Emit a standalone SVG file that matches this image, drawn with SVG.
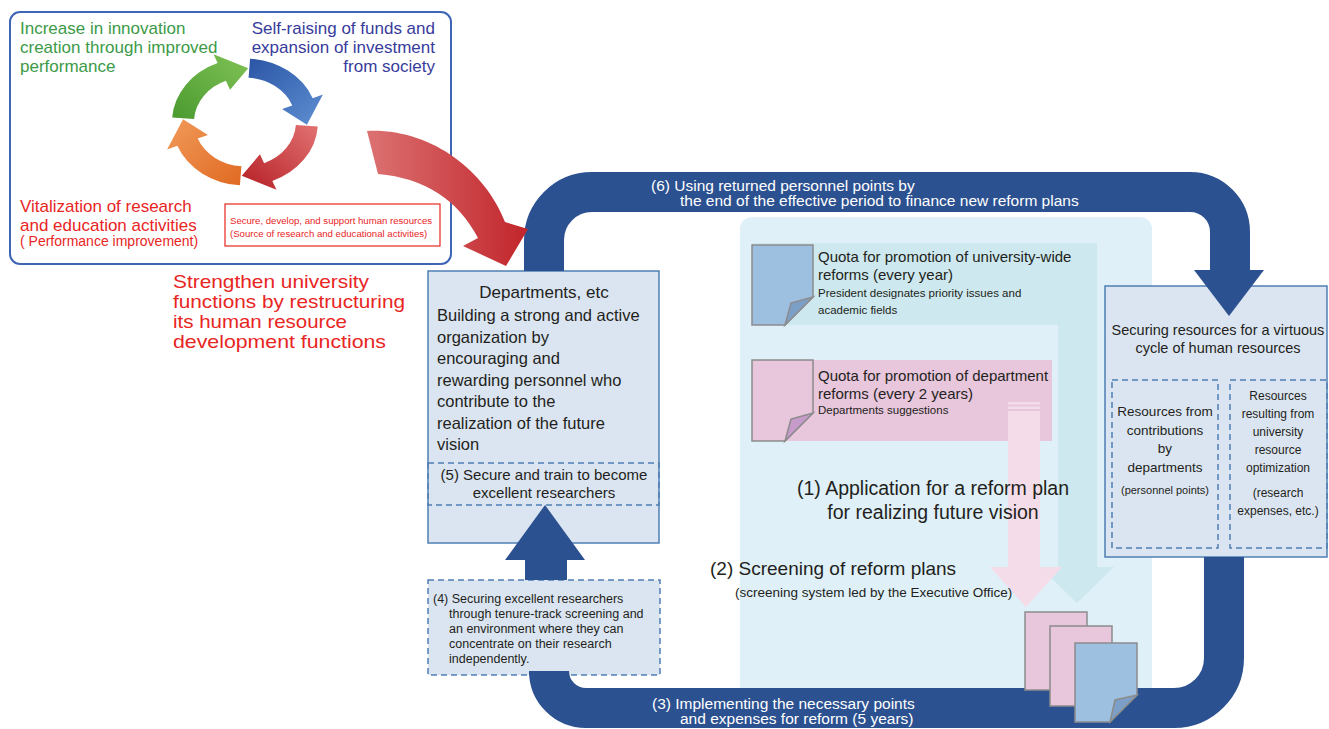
<svg xmlns="http://www.w3.org/2000/svg" width="1329" height="729" viewBox="0 0 1329 729">
<defs>
<style>
text{font-family:"Liberation Sans",Arial,sans-serif;}
.dk{fill:#231f20;}
.wh{fill:#ffffff;}
.rd{fill:#e8251f;}
.box{fill:#dbe5f1;stroke:#4f7fb2;stroke-width:1.5;}
.dash{fill:none;stroke:#4f7fb2;stroke-width:1.5;stroke-dasharray:6 4;}
.doc{stroke:#8c8c8c;stroke-width:1.5;}
.loop{fill:none;stroke:#2c5190;stroke-width:40;}
.mid{text-anchor:middle;}
</style>
<linearGradient id="gGreen" x1="0" y1="1" x2="1" y2="0"><stop offset="0" stop-color="#4a9a30"/><stop offset="1" stop-color="#80c255"/></linearGradient>
<linearGradient id="gBlue" x1="0" y1="1" x2="1" y2="0"><stop offset="0" stop-color="#2a55a5"/><stop offset="1" stop-color="#5f8fd2"/></linearGradient>
<linearGradient id="gRed" x1="0" y1="1" x2="1" y2="0"><stop offset="0" stop-color="#e27272"/><stop offset="1" stop-color="#b51f25"/></linearGradient>
<linearGradient id="gOrange" x1="0" y1="1" x2="1" y2="0"><stop offset="0" stop-color="#e06a22"/><stop offset="1" stop-color="#f19a5a"/></linearGradient>
<linearGradient id="gBig" x1="0" y1="0" x2="1" y2="0"><stop offset="0" stop-color="#dc7272"/><stop offset="1" stop-color="#c1252b"/></linearGradient>
<path id="cyc" d="M -72.82 -5.09 A 73 73 0 0 1 -27.35 -67.68 L -31.47 -77.88 L 3.24 -61.92 L -14.98 -37.09 L -19.1 -47.29 A 51 51 0 0 0 -50.88 -3.56 Z"/>
</defs>

<g id="cycle-box">
<rect x="10" y="12" width="441" height="252" rx="10" fill="#ffffff" stroke="#3f66b5" stroke-width="2"/>
<text x="20" y="34" font-size="17" fill="#3c9a48">Increase in innovation</text>
<text x="20" y="53" font-size="17" fill="#3c9a48">creation through improved</text>
<text x="20" y="72" font-size="17" fill="#3c9a48">performance</text>
<text x="435" y="34" font-size="17" fill="#383c9c" text-anchor="end">Self-raising of funds and</text>
<text x="435" y="53" font-size="17" fill="#383c9c" text-anchor="end">expansion of investment</text>
<text x="435" y="72" font-size="17" fill="#383c9c" text-anchor="end">from society</text>
<text x="20" y="212" font-size="17" class="rd">Vitalization of research</text>
<text x="20" y="231" font-size="17" class="rd">and education activities</text>
<text x="20" y="246" font-size="14" class="rd">( Performance improvement)</text>
<rect x="225" y="204" width="215" height="42" fill="#ffffff" stroke="#e8251f" stroke-width="1.2"/>
<text x="230" y="224" font-size="9.6" class="rd">Secure, develop, and support human resources</text>
<text x="230" y="237" font-size="9.6" class="rd">(Source of research and educational activities)</text>
</g>

<g id="cycle-arrows">
<use href="#cyc" transform="translate(245 122) scale(1 0.87)" fill="url(#gGreen)"/>
<use href="#cyc" transform="translate(245 122) scale(1 0.87) rotate(90)" fill="url(#gBlue)"/>
<use href="#cyc" transform="translate(245 122) scale(1 0.87) rotate(180)" fill="url(#gRed)"/>
<use href="#cyc" transform="translate(245 122) scale(1 0.87) rotate(270)" fill="url(#gOrange)"/>
</g>

<g id="strengthen-label">
<text x="173" y="288" font-size="18.5" class="rd" textLength="196" lengthAdjust="spacingAndGlyphs">Strengthen university</text>
<text x="173" y="308" font-size="18.5" class="rd" textLength="232" lengthAdjust="spacingAndGlyphs">functions by restructuring</text>
<text x="173" y="328" font-size="18.5" class="rd" textLength="174" lengthAdjust="spacingAndGlyphs">its human resource</text>
<text x="173" y="348" font-size="18.5" class="rd" textLength="213" lengthAdjust="spacingAndGlyphs">development functions</text>
</g>

<g id="reform-panel">
<rect x="740" y="217" width="412" height="490" rx="12" fill="#dff0f8"/>
<rect x="752" y="243" width="345" height="82" fill="#cde8ee"/>
<rect x="1058" y="325" width="39" height="243" fill="#cde8ee"/>
<polygon points="1040,567 1114,567 1077,603" fill="#cde8ee"/>
<rect x="752" y="360" width="300" height="81" fill="#e8c6dc"/>
<rect x="1008" y="402" width="32" height="2.5" fill="#f4dce9"/>
<rect x="1008" y="406.5" width="32" height="2.5" fill="#f4dce9"/>
<rect x="1008" y="411" width="32" height="157" fill="#f4dce9"/>
<polygon points="990,567 1062,567 1026,607" fill="#f4dce9"/>
</g>

<g id="quota-university">
<polygon class="doc" points="752,245 813,245 813,297 785,325 752,325" fill="#9dbfe0"/>
<polygon class="doc" points="813,297 785,325 791,303" fill="#7b9fc6" stroke-width="1"/>
<text x="818" y="262" font-size="15" class="dk">Quota for promotion of university-wide</text>
<text x="818" y="280" font-size="15" class="dk">reforms (every year)</text>
<text x="818" y="297" font-size="11.5" class="dk">President designates priority issues and</text>
<text x="818" y="314" font-size="11.5" class="dk">academic fields</text>
</g>

<g id="quota-department">
<polygon class="doc" points="752,360 813,360 813,413 785,441 752,441" fill="#e8c6dc"/>
<polygon class="doc" points="813,413 785,441 791,419" fill="#c69ac9" stroke-width="1"/>
<text x="818" y="381" font-size="15" class="dk">Quota for promotion of department</text>
<text x="818" y="399" font-size="15" class="dk">reforms (every 2 years)</text>
<text x="818" y="414" font-size="11.5" class="dk">Departments suggestions</text>
</g>

<g id="application-label">
<text x="933" y="495" font-size="19.5" class="dk mid">(1) Application for a reform plan</text>
<text x="933" y="519" font-size="19.5" class="dk mid">for realizing future vision</text>
</g>

<g id="screening-label">
<text x="710" y="575" font-size="19" class="dk">(2) Screening of reform plans</text>
<text x="735" y="597" font-size="13.5" class="dk">(screening system led by  the Executive Office)</text>
</g>

<g id="departments">
<rect class="box" x="428" y="271" width="231" height="272"/>
<text x="544" y="298" font-size="17" class="dk mid">Departments, etc</text>
<text x="437" y="321" font-size="16.5" class="dk">Building a strong and active</text>
<text x="437" y="342.5" font-size="16.5" class="dk">organization by</text>
<text x="437" y="364" font-size="16.5" class="dk">encouraging and</text>
<text x="437" y="385.5" font-size="16.5" class="dk">rewarding personnel who</text>
<text x="437" y="407" font-size="16.5" class="dk">contribute to the</text>
<text x="437" y="428.5" font-size="16.5" class="dk">realization of the future</text>
<text x="437" y="450" font-size="16.5" class="dk">vision</text>
<rect class="dash" x="428" y="463" width="231" height="42"/>
<text x="544" y="480" font-size="15" class="dk mid">(5) Secure and train to become</text>
<text x="544" y="498" font-size="15" class="dk mid">excellent researchers</text>
</g>

<g id="tenure-track">
<rect x="428" y="580" width="232" height="95" fill="#dbe5f1"/>
<rect class="dash" x="428" y="580" width="232" height="95"/>
<text x="433" y="603" font-size="12.5" class="dk">(4) Securing excellent researchers</text>
<text x="449" y="618" font-size="12.5" class="dk">through tenure-track screening and</text>
<text x="449" y="633" font-size="12.5" class="dk">an environment where they can</text>
<text x="449" y="648" font-size="12.5" class="dk">concentrate on their research</text>
<text x="449" y="663" font-size="12.5" class="dk">independently.</text>
</g>

<g id="resources">
<rect class="box" x="1105" y="286" width="222" height="271"/>
<text x="1218" y="335" font-size="14.5" class="dk mid">Securing resources for a virtuous</text>
<text x="1218" y="353" font-size="14.5" class="dk mid">cycle of human resources</text>
<rect class="dash" x="1112" y="380" width="106" height="168"/>
<rect class="dash" x="1230" y="380" width="97" height="168"/>
<text x="1165" y="416" font-size="13.5" class="dk mid">Resources from</text>
<text x="1165" y="434.5" font-size="13.5" class="dk mid">contributions</text>
<text x="1165" y="453" font-size="13.5" class="dk mid">by</text>
<text x="1165" y="471.5" font-size="13.5" class="dk mid">departments</text>
<text x="1165" y="494" font-size="11" class="dk mid">(personnel points)</text>
<text x="1278" y="400" font-size="12" class="dk mid">Resources</text>
<text x="1278" y="418" font-size="12" class="dk mid">resulting from</text>
<text x="1278" y="436" font-size="12" class="dk mid">university</text>
<text x="1278" y="454" font-size="12" class="dk mid">resource</text>
<text x="1278" y="472" font-size="12" class="dk mid">optimization</text>
<text x="1278" y="497" font-size="12" class="dk mid">(research</text>
<text x="1278" y="515" font-size="12" class="dk mid">expenses, etc.)</text>
</g>

<g id="connectors">
<path class="loop" d="M 544 271 L 544 240 A 48 48 0 0 1 592 192 L 1190 192 A 40 40 0 0 1 1230 232 L 1230 272"/>
<polygon points="1194,270 1264,270 1229,316" fill="#2c5190"/>
<path class="loop" d="M 1224 557 L 1224 658 A 50 50 0 0 1 1174 708 L 586 708 A 37 37 0 0 1 549 671 L 549 675"/>
<polygon points="525,580 525,560 505,560 545,505 585,560 567,560 567,580" fill="#2c5190"/>
<path d="M 367 131 C 430 128 485 170 505 222 L 528 229 L 506 266 L 463 246 L 478 238 C 458 200 425 178 378 174 Z" fill="url(#gBig)"/>
<text x="651" y="190.5" font-size="15.5" class="wh">(6) Using returned personnel points by</text>
<text x="680" y="205.5" font-size="15.5" class="wh">the end of the effective period to finance new reform plans</text>
<text x="652" y="708.5" font-size="15.5" class="wh">(3) Implementing the necessary points</text>
<text x="680" y="724" font-size="15.5" class="wh">and expenses for reform (5 years)</text>
</g>

<g id="plan-stack">
<rect class="doc" x="1025" y="612" width="62" height="78" fill="#e8c6dc"/>
<rect class="doc" x="1050" y="626" width="62" height="80" fill="#e8c6dc"/>
<polygon class="doc" points="1075,643 1137,643 1137,695 1110,722 1075,722" fill="#9dbfe0"/>
<polygon class="doc" points="1137,695 1110,722 1115,700" fill="#7b9fc6" stroke-width="1"/>
</g>
</svg>
